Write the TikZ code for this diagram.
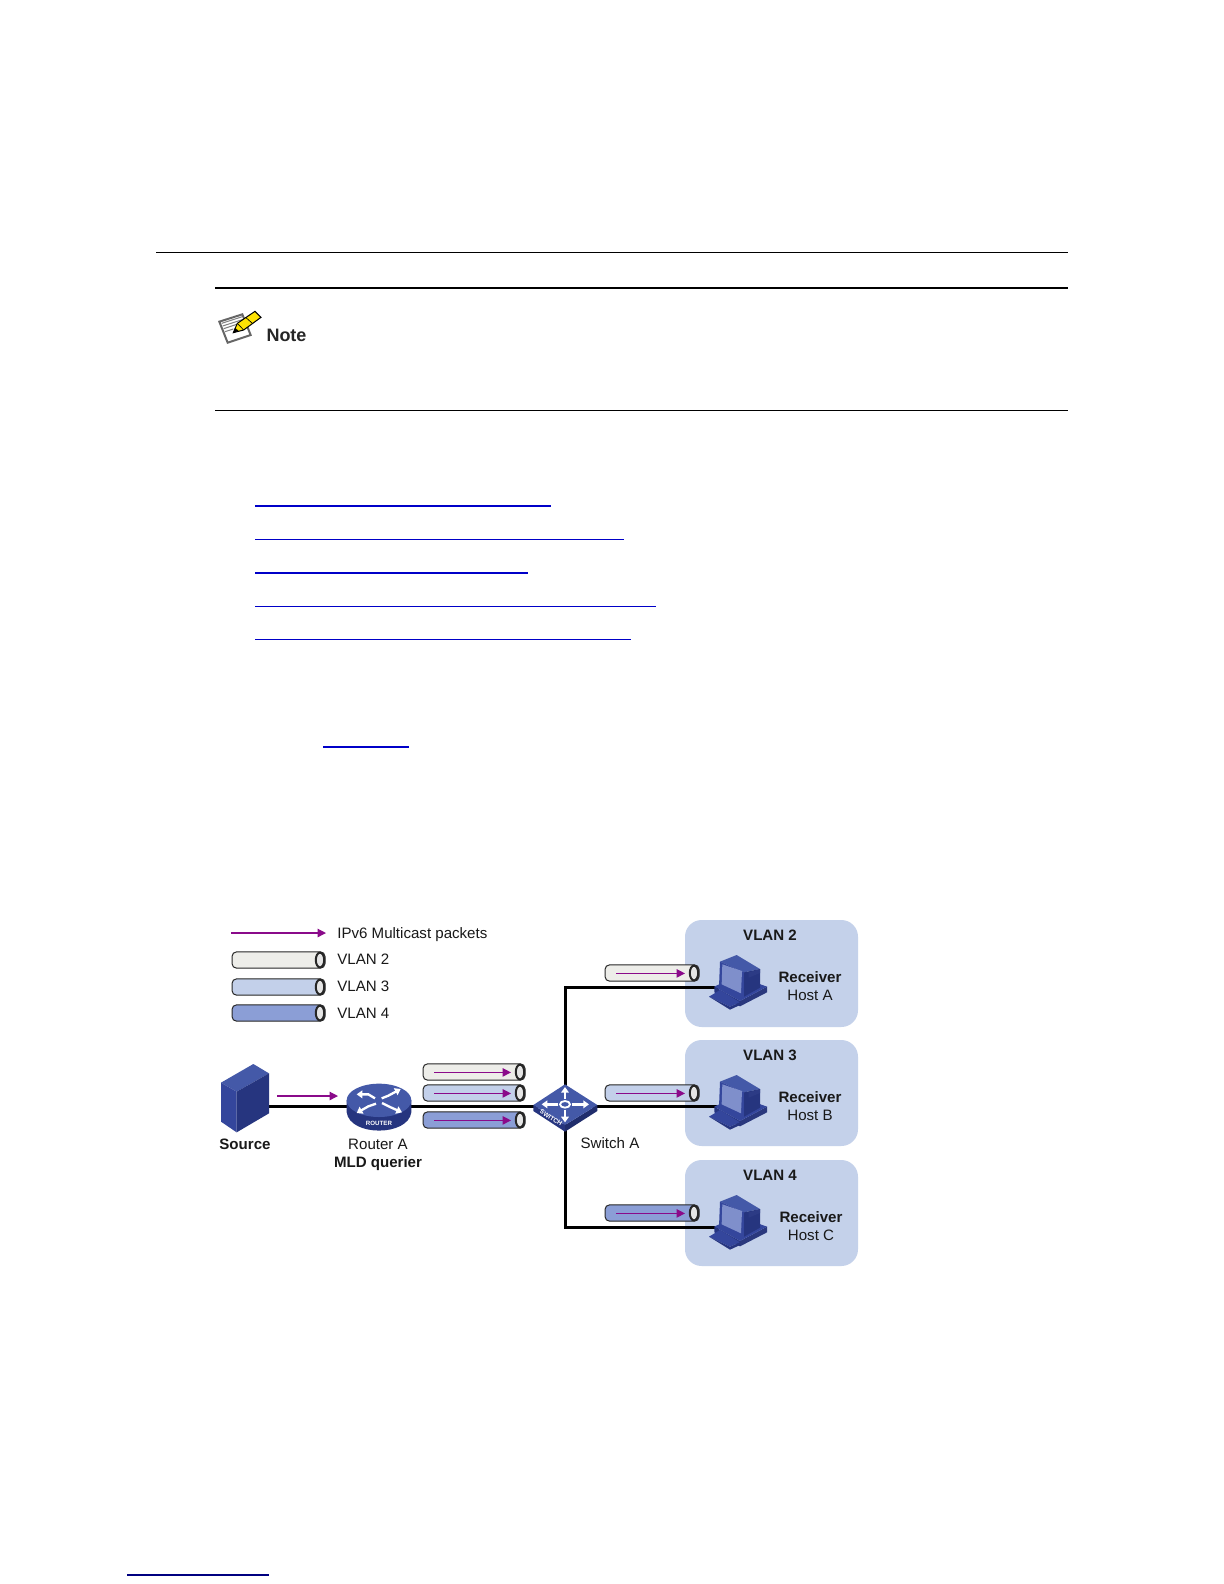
\documentclass[tikz,border=0pt]{standalone}
\usepackage{fontspec}
\setmainfont{Liberation Sans}
\usetikzlibrary{arrows.meta}
\definecolor{panelc}{HTML}{C4D1EA}
\definecolor{tubeA}{HTML}{EDEDE9}
\definecolor{tubeB}{HTML}{C3D0EA}
\definecolor{tubeC}{HTML}{8B9ED6}
\definecolor{flow}{HTML}{8A0A8A}
\definecolor{linkc}{HTML}{0000C8}
\definecolor{bluetop}{HTML}{4459A8}
\definecolor{bluemid}{HTML}{34469C}
\definecolor{bluedark}{HTML}{26357F}
\definecolor{screenc}{HTML}{7F8FCB}
\tikzset{
  lab/.style={font=\fontsize{9.05pt}{11pt}\selectfont,inner sep=0pt,text=black!90},
  labb/.style={lab,font=\fontsize{9.05pt}{11pt}\selectfont\bfseries},
  wire/.style={line width=1.8pt,black},
  pkt/.style={flow,line width=0.75pt,-{Triangle[length=5pt,width=5pt]}},
  tubebody/.style={draw=black!85,line width=0.6pt,rounded corners=2.8pt},
  tubeend/.style={draw=black!85,line width=1.2pt,fill=black!10},
  rule/.style={black,line width=#1},
  lnk/.style={linkc,line width=#1},
  panelbox/.style={fill=panelc,draw=none,rounded corners=10pt},
  whitearrow/.style={white,line width=1.4pt,-{Triangle[length=3.4pt,width=4.6pt]}},
  zoomunits/.style={x=0.2pt,y=-0.2pt}
}
% tube: name, x1, x2, y, colour
\newcommand{\tubeat}[5]{%
  \fill[tubebody,fill=#5] (#2,#4-8.2) rectangle (#3,#4+8.2);
  \draw[tubeend] (#3-5,#4) ellipse [x radius=4.2,y radius=7.4];
  \coordinate (#1-from) at (#2+11,#4+0.4);
  \coordinate (#1-to) at (#3-14,#4+0.4);
  \draw[pkt] (#1-from) -- (#1-to);
}
% tube without arrow, legend
\newcommand{\legendtube}[4]{%
  \fill[tubebody,fill=#4] (#1,#3-8.2) rectangle (#2,#3+8.2);
  \draw[tubeend] (#2-5,#3) ellipse [x radius=4.2,y radius=7.4];
}
% host computer, origin at top-left of its crop
\newcommand{\hosticon}[2]{%
  \begin{scope}[shift={(#1,#2)}]\begin{scope}[zoomunits]
    \fill[bluedark] (43,125) -- (120,168) -- (120,184) -- (43,142) -- cycle;
    \fill[bluemid!80!black] (120,168) -- (201,125) -- (201,142) -- (120,184) -- cycle;
    \fill[bluemid] (43,125) -- (110,92) -- (201,125) -- (120,168) -- cycle;
    \fill[bluemid] (27,155) -- (60,135) -- (120,172) -- (90,185) -- cycle;
    \fill[bluedark] (27,155) -- (90,185) -- (120,172) -- (120,180) -- (90,194) -- cycle;
    \fill[bluetop] (60,50) -- (110,30) -- (180,72) -- (132,82) -- cycle;
    \fill[bluemid] (60,50) -- (132,82) -- (132,155) -- (57,125) -- cycle;
    \fill[bluedark] (132,82) -- (180,72) -- (180,128) -- (132,155) -- cycle;
    \fill[screenc] (67,58) -- (126,78) -- (123,145) -- (65,118) -- cycle;
    \fill[bluemid!85!black] (146,82) -- (180,72) -- (180,84) -- (146,98) -- cycle;
  \end{scope}\end{scope}%
}
\begin{document}
\begin{tikzpicture}[x=0.6pt,y=-0.6pt]
\useasboundingbox (0,0) rectangle (1224,1584);
\fill[white] (0,0) rectangle (1224,1584);
% page rules
\draw[rule=0.65pt] (156,252.3) -- (1068,252.3);
\draw[rule=1.2pt] (215,287.7) -- (1068,287.7);
\draw[rule=0.6pt] (215,410.3) -- (1068,410.3);
% note icon
\begin{scope}[shift={(205,280)}]\begin{scope}[zoomunits]
  \fill[white,draw=black!60,line width=1.2pt] (43,125) -- (112,103) -- (137,165) -- (68,188) -- cycle;
  \draw[black!50,line width=.6pt] (50,130) -- (112,110) (53,138) -- (112,119) (56,146) -- (98,132) (60,155) -- (85,147);
  \fill[yellow!85!orange,draw=black,line width=.6pt] (85,158) -- (97,130) -- (150,94) -- (168,112) -- (116,150) -- cycle;
  \fill[black] (85,158) -- (90,143) -- (101,153) -- cycle;
  \draw[black,line width=.4pt] (97,130) -- (116,150) (122,112) -- (142,130);
\end{scope}\end{scope}
\node[font=\fontsize{10.8pt}{12pt}\selectfont\bfseries,inner sep=0pt,text=black!85] (noteword) at (286.5,335) {Note};
% hyperlink underlines
\draw[lnk=1.1pt] (255,505.7) -- (551,505.7);
\draw[lnk=0.65pt] (255,539.3) -- (624,539.3);
\draw[lnk=1.1pt] (255,573) -- (528,573);
\draw[lnk=0.65pt] (255,606.3) -- (656,606.3);
\draw[lnk=0.75pt] (255,639.3) -- (631,639.3);
\draw[lnk=1.1pt] (323,746.7) -- (409,746.7);
\draw[line width=.65pt,color=blue!50!black] (127,1575) -- (269,1575);
% VLAN panels
\fill[panelbox] (685,920) rectangle (858,1027);
\fill[panelbox] (685,1040) rectangle (858,1146);
\fill[panelbox] (685,1160) rectangle (858,1266);
\node[labb] (vlantwo) at (770,935) {VLAN 2};
\node[labb] (vlanthree) at (770,1055) {VLAN 3};
\node[labb] (vlanfour) at (770,1175) {VLAN 4};
\node[labb] (recvA) at (810,977) {Receiver};
\node[lab] (hostAt) at (810,995) {Host A};
\node[labb] (recvB) at (810,1097) {Receiver};
\node[lab] (hostBt) at (810,1115) {Host B};
\node[labb] (recvC) at (811,1217) {Receiver};
\node[lab] (hostCt) at (811,1235) {Host C};
% legend
\coordinate (legfrom) at (231,933);
\coordinate (legto) at (326,933);
\draw[pkt] (legfrom) -- (legto);
\node[lab,anchor=west] (legpkt) at (337,934.5) {IPv6 Multicast packets};
\legendtube{232}{325}{960}{tubeA}
\legendtube{232}{325}{987}{tubeB}
\legendtube{232}{325}{1013}{tubeC}
\node[lab,anchor=west] (legA) at (337,959.5) {VLAN 2};
\node[lab,anchor=west] (legB) at (337,986.5) {VLAN 3};
\node[lab,anchor=west] (legC) at (337,1013) {VLAN 4};
% connector anchors
\coordinate (source) at (262,1106);
\coordinate (router) at (378,1106);
\coordinate (switch) at (565,1106);
\coordinate (hostA) at (725,987);
\coordinate (hostB) at (725,1107);
\coordinate (hostC) at (725,1227);
% tubes
\tubeat{t1}{423}{525}{1072}{tubeA}
\tubeat{t2}{423}{525}{1093}{tubeB}
\tubeat{t3}{423}{525}{1120}{tubeC}
\tubeat{t4}{605}{699}{973}{tubeA}
\tubeat{t5}{605}{699}{1093}{tubeB}
\tubeat{t6}{605}{699}{1213}{tubeC}
% connectors
\draw[wire] (source) -- (router) -- (switch) -- (switch -| hostB) ;
\draw[wire] (switch) |- (hostA);
\draw[wire] (switch) |- (hostC);
% source arrow
\coordinate (srcfrom) at (277,1096);
\coordinate (srcto) at (338,1096);
\draw[pkt] (srcfrom) -- (srcto);
% server
\begin{scope}[shift={(200,900)}]\begin{scope}[zoomunits]
  \fill[bluetop] (160,492) -- (207,520) -- (110,575) -- (63,548) -- cycle;
  \fill[bluemid] (63,548) -- (110,575) -- (110,697) -- (63,665) -- cycle;
  \fill[bluedark] (110,575) -- (207,520) -- (207,640) -- (110,697) -- cycle;
\end{scope}\end{scope}
\node[labb] (sourcet) at (245,1144) {Source};
% router
\begin{scope}[shift={(340,1075)}]\begin{scope}[zoomunits]
  \fill[bluedark] (20,76) -- (20,112) .. controls (30,185) and (204,185) .. (214,112) -- (214,76) -- cycle;
  \fill[bluetop] (117,76) ellipse [x radius=97,y radius=50];
  \draw[whitearrow] (105,70) -- (85,58) -- (50,58);
  \draw[whitearrow] (125,70) -- (145,62) -- (182,42);
  \draw[whitearrow] (108,86) -- (85,94) -- (50,114);
  \draw[whitearrow] (126,84) -- (150,96) -- (186,112);
  \node[font=\fontsize{3.7pt}{4pt}\selectfont\bfseries,text=white,inner sep=0pt] (routerlogo) at (117,146) {ROUTER};
\end{scope}\end{scope}
\node[lab] (routert) at (378,1144) {Router A};
\node[labb] (mld) at (378,1164) {MLD querier};
% switch
\begin{scope}[shift={(525,1075)}]\begin{scope}[zoomunits]
  \fill[bluedark] (25,90) -- (120,150) -- (120,170) -- (25,108) -- cycle;
  \fill[bluedark!85!black] (120,150) -- (217,90) -- (217,108) -- (120,170) -- cycle;
  \fill[bluetop] (120,28) -- (217,90) -- (120,150) -- (25,90) -- cycle;
  \draw[white,line width=1.1pt] (120,88) ellipse [x radius=15,y radius=10];
  \draw[whitearrow] (120,72) -- (120,36);
  \draw[whitearrow] (120,104) -- (120,142);
  \draw[whitearrow] (100,88) -- (50,88);
  \draw[whitearrow] (140,88) -- (192,88);
  \node[font=\fontsize{3.8pt}{4pt}\selectfont\bfseries,text=white,inner sep=0pt,rotate=-32] (switchlogo) at (78,128) {SWITCH};
\end{scope}\end{scope}
\node[lab] (switcht) at (610,1143) {Switch A};
% hosts
\hosticon{700}{945}
\hosticon{700}{1065}
\hosticon{700}{1185}
\end{tikzpicture}
\end{document}
